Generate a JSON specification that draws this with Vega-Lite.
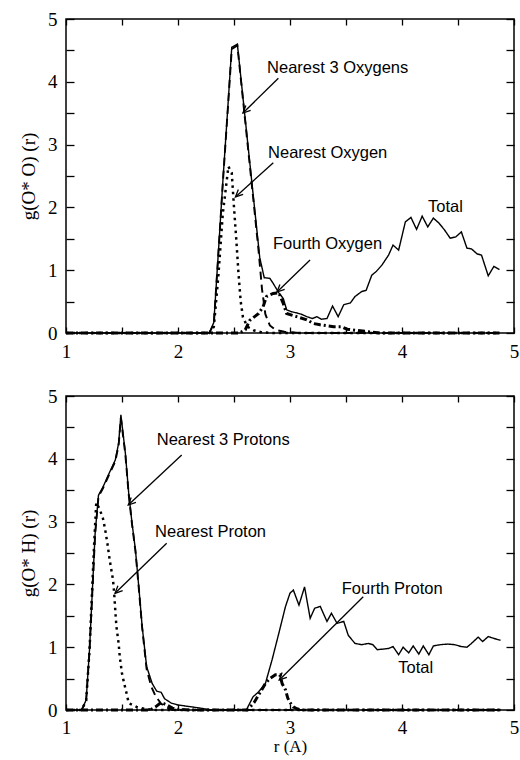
{
  "$schema": "https://vega.github.io/schema/vega-lite/v6.json",
  "background": "white",
  "padding": {"left": 18, "top": 9, "right": 6, "bottom": 5},
  "spacing": 63,
  "bounds": "flush",
  "config": {
    "view": {"stroke": "black", "strokeWidth": 1.5},
    "axis": {"grid": false, "domain": false, "labelFont": "Liberation Serif", "labelFontSize": 19, "labelColor": "black", "tickColor": "black", "tickWidth": 1.3, "titleFont": "Liberation Serif", "titleFontSize": 19, "titleFontWeight": "normal", "titleColor": "black", "labelOverlap": false, "labelFlush": false}
  },
  "datasets": {
    "curves": [
      {"panel": "top", "series": "Total", "r": 1.0, "g": 0},
      {"panel": "top", "series": "Total", "r": 2.28, "g": 0},
      {"panel": "top", "series": "Total", "r": 2.32, "g": 0.17},
      {"panel": "top", "series": "Total", "r": 2.36, "g": 1.27},
      {"panel": "top", "series": "Total", "r": 2.40, "g": 2.4},
      {"panel": "top", "series": "Total", "r": 2.44, "g": 3.46},
      {"panel": "top", "series": "Total", "r": 2.48, "g": 4.55},
      {"panel": "top", "series": "Total", "r": 2.53, "g": 4.6},
      {"panel": "top", "series": "Total", "r": 2.58, "g": 3.75},
      {"panel": "top", "series": "Total", "r": 2.63, "g": 2.9},
      {"panel": "top", "series": "Total", "r": 2.68, "g": 2.05},
      {"panel": "top", "series": "Total", "r": 2.73, "g": 1.2},
      {"panel": "top", "series": "Total", "r": 2.77, "g": 0.88},
      {"panel": "top", "series": "Total", "r": 2.82, "g": 0.87},
      {"panel": "top", "series": "Total", "r": 2.85, "g": 0.79},
      {"panel": "top", "series": "Total", "r": 2.90, "g": 0.64},
      {"panel": "top", "series": "Total", "r": 2.94, "g": 0.55},
      {"panel": "top", "series": "Total", "r": 2.97, "g": 0.37},
      {"panel": "top", "series": "Total", "r": 3.01, "g": 0.34},
      {"panel": "top", "series": "Total", "r": 3.06, "g": 0.32},
      {"panel": "top", "series": "Total", "r": 3.10, "g": 0.30},
      {"panel": "top", "series": "Total", "r": 3.15, "g": 0.26},
      {"panel": "top", "series": "Total", "r": 3.20, "g": 0.23},
      {"panel": "top", "series": "Total", "r": 3.24, "g": 0.26},
      {"panel": "top", "series": "Total", "r": 3.28, "g": 0.22},
      {"panel": "top", "series": "Total", "r": 3.33, "g": 0.23},
      {"panel": "top", "series": "Total", "r": 3.38, "g": 0.43},
      {"panel": "top", "series": "Total", "r": 3.43, "g": 0.26},
      {"panel": "top", "series": "Total", "r": 3.48, "g": 0.45},
      {"panel": "top", "series": "Total", "r": 3.54, "g": 0.48},
      {"panel": "top", "series": "Total", "r": 3.58, "g": 0.58},
      {"panel": "top", "series": "Total", "r": 3.64, "g": 0.66},
      {"panel": "top", "series": "Total", "r": 3.68, "g": 0.68},
      {"panel": "top", "series": "Total", "r": 3.73, "g": 0.92},
      {"panel": "top", "series": "Total", "r": 3.77, "g": 0.98},
      {"panel": "top", "series": "Total", "r": 3.82, "g": 1.08},
      {"panel": "top", "series": "Total", "r": 3.88, "g": 1.24},
      {"panel": "top", "series": "Total", "r": 3.92, "g": 1.40},
      {"panel": "top", "series": "Total", "r": 3.97, "g": 1.32},
      {"panel": "top", "series": "Total", "r": 4.03, "g": 1.77},
      {"panel": "top", "series": "Total", "r": 4.08, "g": 1.84},
      {"panel": "top", "series": "Total", "r": 4.13, "g": 1.65},
      {"panel": "top", "series": "Total", "r": 4.18, "g": 1.86},
      {"panel": "top", "series": "Total", "r": 4.23, "g": 1.69},
      {"panel": "top", "series": "Total", "r": 4.28, "g": 1.83},
      {"panel": "top", "series": "Total", "r": 4.33, "g": 1.75},
      {"panel": "top", "series": "Total", "r": 4.38, "g": 1.64},
      {"panel": "top", "series": "Total", "r": 4.43, "g": 1.51},
      {"panel": "top", "series": "Total", "r": 4.48, "g": 1.53},
      {"panel": "top", "series": "Total", "r": 4.53, "g": 1.61},
      {"panel": "top", "series": "Total", "r": 4.58, "g": 1.35},
      {"panel": "top", "series": "Total", "r": 4.62, "g": 1.34},
      {"panel": "top", "series": "Total", "r": 4.67, "g": 1.26},
      {"panel": "top", "series": "Total", "r": 4.71, "g": 1.24},
      {"panel": "top", "series": "Total", "r": 4.77, "g": 0.91},
      {"panel": "top", "series": "Total", "r": 4.82, "g": 1.06},
      {"panel": "top", "series": "Total", "r": 4.87, "g": 1.01},

      {"panel": "top", "series": "Nearest 3", "r": 1.0, "g": 0},
      {"panel": "top", "series": "Nearest 3", "r": 2.28, "g": 0},
      {"panel": "top", "series": "Nearest 3", "r": 2.32, "g": 0.15},
      {"panel": "top", "series": "Nearest 3", "r": 2.36, "g": 1.25},
      {"panel": "top", "series": "Nearest 3", "r": 2.40, "g": 2.38},
      {"panel": "top", "series": "Nearest 3", "r": 2.44, "g": 3.44},
      {"panel": "top", "series": "Nearest 3", "r": 2.48, "g": 4.52},
      {"panel": "top", "series": "Nearest 3", "r": 2.53, "g": 4.58},
      {"panel": "top", "series": "Nearest 3", "r": 2.58, "g": 3.72},
      {"panel": "top", "series": "Nearest 3", "r": 2.63, "g": 2.86},
      {"panel": "top", "series": "Nearest 3", "r": 2.68, "g": 2.0},
      {"panel": "top", "series": "Nearest 3", "r": 2.72, "g": 1.3},
      {"panel": "top", "series": "Nearest 3", "r": 2.75, "g": 0.7},
      {"panel": "top", "series": "Nearest 3", "r": 2.78, "g": 0.3},
      {"panel": "top", "series": "Nearest 3", "r": 2.82, "g": 0.12},
      {"panel": "top", "series": "Nearest 3", "r": 2.87, "g": 0.05},
      {"panel": "top", "series": "Nearest 3", "r": 2.95, "g": 0.02},
      {"panel": "top", "series": "Nearest 3", "r": 3.1, "g": 0},
      {"panel": "top", "series": "Nearest 3", "r": 4.87, "g": 0},

      {"panel": "top", "series": "Nearest", "r": 1.0, "g": 0},
      {"panel": "top", "series": "Nearest", "r": 2.28, "g": 0},
      {"panel": "top", "series": "Nearest", "r": 2.32, "g": 0.1},
      {"panel": "top", "series": "Nearest", "r": 2.36, "g": 0.9},
      {"panel": "top", "series": "Nearest", "r": 2.40, "g": 1.9},
      {"panel": "top", "series": "Nearest", "r": 2.45, "g": 2.65},
      {"panel": "top", "series": "Nearest", "r": 2.48, "g": 2.55},
      {"panel": "top", "series": "Nearest", "r": 2.50, "g": 2.0},
      {"panel": "top", "series": "Nearest", "r": 2.52, "g": 1.5},
      {"panel": "top", "series": "Nearest", "r": 2.54, "g": 0.95},
      {"panel": "top", "series": "Nearest", "r": 2.56, "g": 0.5},
      {"panel": "top", "series": "Nearest", "r": 2.58, "g": 0.25},
      {"panel": "top", "series": "Nearest", "r": 2.62, "g": 0.1},
      {"panel": "top", "series": "Nearest", "r": 2.68, "g": 0.04},
      {"panel": "top", "series": "Nearest", "r": 2.75, "g": 0.01},
      {"panel": "top", "series": "Nearest", "r": 2.85, "g": 0},
      {"panel": "top", "series": "Nearest", "r": 4.87, "g": 0},

      {"panel": "top", "series": "Fourth", "r": 1.0, "g": 0},
      {"panel": "top", "series": "Fourth", "r": 2.55, "g": 0},
      {"panel": "top", "series": "Fourth", "r": 2.60, "g": 0.05},
      {"panel": "top", "series": "Fourth", "r": 2.64, "g": 0.2},
      {"panel": "top", "series": "Fourth", "r": 2.72, "g": 0.31},
      {"panel": "top", "series": "Fourth", "r": 2.76, "g": 0.42},
      {"panel": "top", "series": "Fourth", "r": 2.79, "g": 0.58},
      {"panel": "top", "series": "Fourth", "r": 2.85, "g": 0.63},
      {"panel": "top", "series": "Fourth", "r": 2.90, "g": 0.64},
      {"panel": "top", "series": "Fourth", "r": 2.94, "g": 0.47},
      {"panel": "top", "series": "Fourth", "r": 2.97, "g": 0.31},
      {"panel": "top", "series": "Fourth", "r": 3.06, "g": 0.26},
      {"panel": "top", "series": "Fourth", "r": 3.15, "g": 0.21},
      {"panel": "top", "series": "Fourth", "r": 3.21, "g": 0.15},
      {"panel": "top", "series": "Fourth", "r": 3.27, "g": 0.13},
      {"panel": "top", "series": "Fourth", "r": 3.39, "g": 0.1},
      {"panel": "top", "series": "Fourth", "r": 3.46, "g": 0.1},
      {"panel": "top", "series": "Fourth", "r": 3.51, "g": 0.06},
      {"panel": "top", "series": "Fourth", "r": 3.60, "g": 0.04},
      {"panel": "top", "series": "Fourth", "r": 3.70, "g": 0.02},
      {"panel": "top", "series": "Fourth", "r": 3.80, "g": 0},
      {"panel": "top", "series": "Fourth", "r": 4.87, "g": 0},

      {"panel": "bottom", "series": "Total", "r": 1.0, "g": 0},
      {"panel": "bottom", "series": "Total", "r": 1.14, "g": 0},
      {"panel": "bottom", "series": "Total", "r": 1.18, "g": 0.16},
      {"panel": "bottom", "series": "Total", "r": 1.21, "g": 0.96},
      {"panel": "bottom", "series": "Total", "r": 1.26, "g": 2.81},
      {"panel": "bottom", "series": "Total", "r": 1.29, "g": 3.42},
      {"panel": "bottom", "series": "Total", "r": 1.33, "g": 3.55},
      {"panel": "bottom", "series": "Total", "r": 1.38, "g": 3.75},
      {"panel": "bottom", "series": "Total", "r": 1.44, "g": 3.98},
      {"panel": "bottom", "series": "Total", "r": 1.47, "g": 4.25},
      {"panel": "bottom", "series": "Total", "r": 1.49, "g": 4.70},
      {"panel": "bottom", "series": "Total", "r": 1.53, "g": 4.09},
      {"panel": "bottom", "series": "Total", "r": 1.56, "g": 3.45},
      {"panel": "bottom", "series": "Total", "r": 1.59, "g": 2.97},
      {"panel": "bottom", "series": "Total", "r": 1.62, "g": 2.55},
      {"panel": "bottom", "series": "Total", "r": 1.65, "g": 1.96},
      {"panel": "bottom", "series": "Total", "r": 1.68, "g": 1.33},
      {"panel": "bottom", "series": "Total", "r": 1.72, "g": 0.69},
      {"panel": "bottom", "series": "Total", "r": 1.77, "g": 0.42},
      {"panel": "bottom", "series": "Total", "r": 1.81, "g": 0.30},
      {"panel": "bottom", "series": "Total", "r": 1.85, "g": 0.28},
      {"panel": "bottom", "series": "Total", "r": 1.88, "g": 0.18},
      {"panel": "bottom", "series": "Total", "r": 1.94, "g": 0.11},
      {"panel": "bottom", "series": "Total", "r": 2.0, "g": 0.08},
      {"panel": "bottom", "series": "Total", "r": 2.08, "g": 0.06},
      {"panel": "bottom", "series": "Total", "r": 2.2, "g": 0.03},
      {"panel": "bottom", "series": "Total", "r": 2.3, "g": 0},
      {"panel": "bottom", "series": "Total", "r": 2.61, "g": 0},
      {"panel": "bottom", "series": "Total", "r": 2.67, "g": 0.21},
      {"panel": "bottom", "series": "Total", "r": 2.72, "g": 0.29},
      {"panel": "bottom", "series": "Total", "r": 2.78, "g": 0.42},
      {"panel": "bottom", "series": "Total", "r": 2.84, "g": 0.80},
      {"panel": "bottom", "series": "Total", "r": 2.90, "g": 1.22},
      {"panel": "bottom", "series": "Total", "r": 2.96, "g": 1.65},
      {"panel": "bottom", "series": "Total", "r": 3.00, "g": 1.86},
      {"panel": "bottom", "series": "Total", "r": 3.03, "g": 1.91},
      {"panel": "bottom", "series": "Total", "r": 3.08, "g": 1.67},
      {"panel": "bottom", "series": "Total", "r": 3.13, "g": 1.96},
      {"panel": "bottom", "series": "Total", "r": 3.18, "g": 1.46},
      {"panel": "bottom", "series": "Total", "r": 3.22, "g": 1.62},
      {"panel": "bottom", "series": "Total", "r": 3.27, "g": 1.65},
      {"panel": "bottom", "series": "Total", "r": 3.33, "g": 1.41},
      {"panel": "bottom", "series": "Total", "r": 3.37, "g": 1.54},
      {"panel": "bottom", "series": "Total", "r": 3.42, "g": 1.38},
      {"panel": "bottom", "series": "Total", "r": 3.48, "g": 1.41},
      {"panel": "bottom", "series": "Total", "r": 3.52, "g": 1.19},
      {"panel": "bottom", "series": "Total", "r": 3.58, "g": 1.06},
      {"panel": "bottom", "series": "Total", "r": 3.64, "g": 1.04},
      {"panel": "bottom", "series": "Total", "r": 3.70, "g": 1.06},
      {"panel": "bottom", "series": "Total", "r": 3.74, "g": 1.04},
      {"panel": "bottom", "series": "Total", "r": 3.78, "g": 0.96},
      {"panel": "bottom", "series": "Total", "r": 3.83, "g": 0.97},
      {"panel": "bottom", "series": "Total", "r": 3.88, "g": 0.98},
      {"panel": "bottom", "series": "Total", "r": 3.92, "g": 1.01},
      {"panel": "bottom", "series": "Total", "r": 3.97, "g": 0.88},
      {"panel": "bottom", "series": "Total", "r": 4.01, "g": 1.0},
      {"panel": "bottom", "series": "Total", "r": 4.06, "g": 0.91},
      {"panel": "bottom", "series": "Total", "r": 4.10, "g": 1.02},
      {"panel": "bottom", "series": "Total", "r": 4.15, "g": 0.89},
      {"panel": "bottom", "series": "Total", "r": 4.19, "g": 1.02},
      {"panel": "bottom", "series": "Total", "r": 4.24, "g": 0.88},
      {"panel": "bottom", "series": "Total", "r": 4.28, "g": 1.02},
      {"panel": "bottom", "series": "Total", "r": 4.34, "g": 1.04},
      {"panel": "bottom", "series": "Total", "r": 4.41, "g": 1.05},
      {"panel": "bottom", "series": "Total", "r": 4.47, "g": 1.04},
      {"panel": "bottom", "series": "Total", "r": 4.53, "g": 1.01},
      {"panel": "bottom", "series": "Total", "r": 4.58, "g": 1.0},
      {"panel": "bottom", "series": "Total", "r": 4.62, "g": 1.06},
      {"panel": "bottom", "series": "Total", "r": 4.68, "g": 1.16},
      {"panel": "bottom", "series": "Total", "r": 4.72, "g": 1.09},
      {"panel": "bottom", "series": "Total", "r": 4.77, "g": 1.17},
      {"panel": "bottom", "series": "Total", "r": 4.82, "g": 1.14},
      {"panel": "bottom", "series": "Total", "r": 4.88, "g": 1.11},

      {"panel": "bottom", "series": "Nearest 3", "r": 1.0, "g": 0},
      {"panel": "bottom", "series": "Nearest 3", "r": 1.14, "g": 0},
      {"panel": "bottom", "series": "Nearest 3", "r": 1.18, "g": 0.15},
      {"panel": "bottom", "series": "Nearest 3", "r": 1.21, "g": 0.95},
      {"panel": "bottom", "series": "Nearest 3", "r": 1.26, "g": 2.8},
      {"panel": "bottom", "series": "Nearest 3", "r": 1.29, "g": 3.4},
      {"panel": "bottom", "series": "Nearest 3", "r": 1.33, "g": 3.53},
      {"panel": "bottom", "series": "Nearest 3", "r": 1.38, "g": 3.73},
      {"panel": "bottom", "series": "Nearest 3", "r": 1.44, "g": 3.96},
      {"panel": "bottom", "series": "Nearest 3", "r": 1.47, "g": 4.22},
      {"panel": "bottom", "series": "Nearest 3", "r": 1.49, "g": 4.65},
      {"panel": "bottom", "series": "Nearest 3", "r": 1.53, "g": 4.07},
      {"panel": "bottom", "series": "Nearest 3", "r": 1.56, "g": 3.43},
      {"panel": "bottom", "series": "Nearest 3", "r": 1.59, "g": 2.95},
      {"panel": "bottom", "series": "Nearest 3", "r": 1.62, "g": 2.53},
      {"panel": "bottom", "series": "Nearest 3", "r": 1.65, "g": 1.94},
      {"panel": "bottom", "series": "Nearest 3", "r": 1.68, "g": 1.31},
      {"panel": "bottom", "series": "Nearest 3", "r": 1.72, "g": 0.65},
      {"panel": "bottom", "series": "Nearest 3", "r": 1.76, "g": 0.38},
      {"panel": "bottom", "series": "Nearest 3", "r": 1.80, "g": 0.22},
      {"panel": "bottom", "series": "Nearest 3", "r": 1.85, "g": 0.1},
      {"panel": "bottom", "series": "Nearest 3", "r": 1.90, "g": 0.04},
      {"panel": "bottom", "series": "Nearest 3", "r": 1.95, "g": 0},
      {"panel": "bottom", "series": "Nearest 3", "r": 4.88, "g": 0},

      {"panel": "bottom", "series": "Nearest", "r": 1.0, "g": 0},
      {"panel": "bottom", "series": "Nearest", "r": 1.14, "g": 0},
      {"panel": "bottom", "series": "Nearest", "r": 1.18, "g": 0.15},
      {"panel": "bottom", "series": "Nearest", "r": 1.21, "g": 0.95},
      {"panel": "bottom", "series": "Nearest", "r": 1.25, "g": 2.6},
      {"panel": "bottom", "series": "Nearest", "r": 1.27, "g": 3.3},
      {"panel": "bottom", "series": "Nearest", "r": 1.30, "g": 3.2},
      {"panel": "bottom", "series": "Nearest", "r": 1.33, "g": 3.05},
      {"panel": "bottom", "series": "Nearest", "r": 1.35, "g": 2.87},
      {"panel": "bottom", "series": "Nearest", "r": 1.37, "g": 2.65},
      {"panel": "bottom", "series": "Nearest", "r": 1.39, "g": 2.39},
      {"panel": "bottom", "series": "Nearest", "r": 1.42, "g": 2.07},
      {"panel": "bottom", "series": "Nearest", "r": 1.43, "g": 1.86},
      {"panel": "bottom", "series": "Nearest", "r": 1.44, "g": 1.59},
      {"panel": "bottom", "series": "Nearest", "r": 1.45, "g": 1.33},
      {"panel": "bottom", "series": "Nearest", "r": 1.47, "g": 1.06},
      {"panel": "bottom", "series": "Nearest", "r": 1.48, "g": 0.85},
      {"panel": "bottom", "series": "Nearest", "r": 1.50, "g": 0.58},
      {"panel": "bottom", "series": "Nearest", "r": 1.52, "g": 0.42},
      {"panel": "bottom", "series": "Nearest", "r": 1.54, "g": 0.27},
      {"panel": "bottom", "series": "Nearest", "r": 1.56, "g": 0.11},
      {"panel": "bottom", "series": "Nearest", "r": 1.63, "g": 0.05},
      {"panel": "bottom", "series": "Nearest", "r": 1.70, "g": 0.02},
      {"panel": "bottom", "series": "Nearest", "r": 1.80, "g": 0},
      {"panel": "bottom", "series": "Nearest", "r": 4.88, "g": 0},

      {"panel": "bottom", "series": "Fourth", "r": 1.0, "g": 0},
      {"panel": "bottom", "series": "Fourth", "r": 1.75, "g": 0},
      {"panel": "bottom", "series": "Fourth", "r": 1.80, "g": 0.05},
      {"panel": "bottom", "series": "Fourth", "r": 1.85, "g": 0.12},
      {"panel": "bottom", "series": "Fourth", "r": 1.90, "g": 0.08},
      {"panel": "bottom", "series": "Fourth", "r": 1.95, "g": 0.03},
      {"panel": "bottom", "series": "Fourth", "r": 2.0, "g": 0.01},
      {"panel": "bottom", "series": "Fourth", "r": 2.1, "g": 0},
      {"panel": "bottom", "series": "Fourth", "r": 2.62, "g": 0},
      {"panel": "bottom", "series": "Fourth", "r": 2.68, "g": 0.12},
      {"panel": "bottom", "series": "Fourth", "r": 2.73, "g": 0.27},
      {"panel": "bottom", "series": "Fourth", "r": 2.78, "g": 0.42},
      {"panel": "bottom", "series": "Fourth", "r": 2.82, "g": 0.50},
      {"panel": "bottom", "series": "Fourth", "r": 2.87, "g": 0.56},
      {"panel": "bottom", "series": "Fourth", "r": 2.91, "g": 0.56},
      {"panel": "bottom", "series": "Fourth", "r": 2.93, "g": 0.42},
      {"panel": "bottom", "series": "Fourth", "r": 2.96, "g": 0.32},
      {"panel": "bottom", "series": "Fourth", "r": 2.98, "g": 0.19},
      {"panel": "bottom", "series": "Fourth", "r": 3.00, "g": 0.12},
      {"panel": "bottom", "series": "Fourth", "r": 3.03, "g": 0.05},
      {"panel": "bottom", "series": "Fourth", "r": 3.06, "g": 0.02},
      {"panel": "bottom", "series": "Fourth", "r": 3.10, "g": 0},
      {"panel": "bottom", "series": "Fourth", "r": 4.88, "g": 0}
    ],
    "texts": [
      {"panel": "top", "label": "Nearest 3 Oxygens", "r": 2.795, "g": 4.22},
      {"panel": "top", "label": "Nearest Oxygen", "r": 2.804, "g": 2.871},
      {"panel": "top", "label": "Fourth Oxygen", "r": 2.848, "g": 1.417},
      {"panel": "top", "label": "Total", "r": 4.232, "g": 2.011},
      {"panel": "bottom", "label": "Nearest 3 Protons", "r": 1.81, "g": 4.299},
      {"panel": "bottom", "label": "Nearest Proton", "r": 1.795, "g": 2.839},
      {"panel": "bottom", "label": "Fourth Proton", "r": 3.462, "g": 1.922},
      {"panel": "bottom", "label": "Total", "r": 3.967, "g": 0.664}
    ],
    "arrows": [
      {"panel": "top", "r": 2.896, "g": 4.056, "r2": 2.58, "g2": 3.503},
      {"panel": "top", "r": 2.851, "g": 2.712, "r2": 2.513, "g2": 2.166},
      {"panel": "top", "r": 3.179, "g": 1.162, "r2": 2.884, "g2": 0.653},
      {"panel": "bottom", "r": 2.033, "g": 4.06, "r2": 1.556, "g2": 3.264},
      {"panel": "bottom", "r": 1.899, "g": 2.654, "r2": 1.4375, "g2": 1.858},
      {"panel": "bottom", "r": 3.654, "g": 1.804, "r2": 2.904, "g2": 0.478}
    ]
  },
  "vconcat": [
    {
      "width": 448, "height": 314,
      "resolve": {"axis": {"x": "independent", "y": "independent"}},
      "layer": [
        {
          "data": {"name": "curves"},
          "transform": [{"filter": "datum.panel === 'top'"}],
          "mark": {"type": "line", "color": "black"},
          "encoding": {
            "x": {"field": "r", "type": "quantitative", "scale": {"domain": [1, 5], "nice": false, "zero": false},
                  "axis": {"orient": "bottom", "values": [1, 1.5, 2, 2.5, 3, 3.5, 4, 4.5, 5], "labelExpr": "datum.value % 1 === 0 ? format(datum.value, 'd') : ''", "tickSize": -6, "labelPadding": 15, "title": null}},
            "y": {"field": "g", "type": "quantitative", "scale": {"domain": [0, 5], "nice": false},
                  "axis": {"orient": "left", "values": [0, 0.5, 1, 1.5, 2, 2.5, 3, 3.5, 4, 4.5, 5], "labelExpr": "datum.value % 1 === 0 ? format(datum.value, 'd') : ''", "tickSize": -8, "labelPadding": 17, "title": "g(O* O) (r)", "titlePadding": 9}},
            "strokeDash": {"field": "series", "type": "nominal", "legend": null,
                  "scale": {"domain": ["Total", "Nearest 3", "Nearest", "Fourth"], "range": [[1, 0], [8, 5], [2.5, 4], [7, 3, 2, 3]]}},
            "strokeWidth": {"field": "series", "type": "nominal", "legend": null,
                  "scale": {"domain": ["Total", "Nearest 3", "Nearest", "Fourth"], "range": [1.4, 3, 3, 1.5]}}
          }
        },
        {
          "data": {"name": "arrows"},
          "transform": [{"filter": "datum.panel === 'top'"}],
          "mark": {"type": "rule", "color": "black", "strokeWidth": 1.3},
          "encoding": {
            "x": {"field": "r", "type": "quantitative", "axis": null},
            "y": {"field": "g", "type": "quantitative", "axis": null},
            "x2": {"field": "r2"},
            "y2": {"field": "g2"}
          }
        },
        {
          "data": {"name": "arrows"},
          "transform": [{"filter": "datum.panel === 'top'"}],
          "mark": {"type": "point", "shape": "M0.95,-0.33L0,0L0.36,-0.93", "filled": false, "color": "black", "strokeWidth": 1.3, "size": 260, "opacity": 1},
          "encoding": {
            "x": {"field": "r2", "type": "quantitative", "axis": null},
            "y": {"field": "g2", "type": "quantitative", "axis": null}
          }
        },
        {
          "data": {"name": "texts"},
          "transform": [{"filter": "datum.panel === 'top'"}],
          "mark": {"type": "text", "align": "left", "baseline": "middle", "font": "Liberation Sans", "fontSize": 16.5, "color": "black"},
          "encoding": {
            "x": {"field": "r", "type": "quantitative",
                  "axis": {"orient": "top", "values": [1, 1.5, 2, 2.5, 3, 3.5, 4, 4.5, 5], "labels": false, "tickSize": -6, "title": null}},
            "y": {"field": "g", "type": "quantitative",
                  "axis": {"orient": "right", "values": [0, 0.5, 1, 1.5, 2, 2.5, 3, 3.5, 4, 4.5, 5], "labels": false, "tickSize": -8, "title": null}},
            "text": {"field": "label"}
          }
        }
      ]
    },
    {
      "width": 448, "height": 314,
      "resolve": {"axis": {"x": "independent", "y": "independent"}},
      "layer": [
        {
          "data": {"name": "curves"},
          "transform": [{"filter": "datum.panel === 'bottom'"}],
          "mark": {"type": "line", "color": "black"},
          "encoding": {
            "x": {"field": "r", "type": "quantitative", "scale": {"domain": [1, 5], "nice": false, "zero": false},
                  "axis": {"orient": "bottom", "values": [1, 1.5, 2, 2.5, 3, 3.5, 4, 4.5, 5], "labelExpr": "datum.value % 1 === 0 ? format(datum.value, 'd') : ''", "tickSize": -6, "labelPadding": 14, "title": "r (A)", "titlePadding": 1, "titleFontSize": 17}},
            "y": {"field": "g", "type": "quantitative", "scale": {"domain": [0, 5], "nice": false},
                  "axis": {"orient": "left", "values": [0, 0.5, 1, 1.5, 2, 2.5, 3, 3.5, 4, 4.5, 5], "labelExpr": "datum.value % 1 === 0 ? format(datum.value, 'd') : ''", "tickSize": -8, "labelPadding": 17, "title": "g(O* H) (r)", "titlePadding": 9}},
            "strokeDash": {"field": "series", "type": "nominal", "legend": null,
                  "scale": {"domain": ["Total", "Nearest 3", "Nearest", "Fourth"], "range": [[1, 0], [8, 5], [2.5, 4], [7, 3, 2, 3]]}},
            "strokeWidth": {"field": "series", "type": "nominal", "legend": null,
                  "scale": {"domain": ["Total", "Nearest 3", "Nearest", "Fourth"], "range": [1.4, 3, 3, 1.5]}}
          }
        },
        {
          "data": {"name": "arrows"},
          "transform": [{"filter": "datum.panel === 'bottom'"}],
          "mark": {"type": "rule", "color": "black", "strokeWidth": 1.3},
          "encoding": {
            "x": {"field": "r", "type": "quantitative", "axis": null},
            "y": {"field": "g", "type": "quantitative", "axis": null},
            "x2": {"field": "r2"},
            "y2": {"field": "g2"}
          }
        },
        {
          "data": {"name": "arrows"},
          "transform": [{"filter": "datum.panel === 'bottom'"}],
          "mark": {"type": "point", "shape": "M0.95,-0.33L0,0L0.36,-0.93", "filled": false, "color": "black", "strokeWidth": 1.3, "size": 260, "opacity": 1},
          "encoding": {
            "x": {"field": "r2", "type": "quantitative", "axis": null},
            "y": {"field": "g2", "type": "quantitative", "axis": null}
          }
        },
        {
          "data": {"name": "texts"},
          "transform": [{"filter": "datum.panel === 'bottom'"}],
          "mark": {"type": "text", "align": "left", "baseline": "middle", "font": "Liberation Sans", "fontSize": 16.5, "color": "black"},
          "encoding": {
            "x": {"field": "r", "type": "quantitative",
                  "axis": {"orient": "top", "values": [1, 1.5, 2, 2.5, 3, 3.5, 4, 4.5, 5], "labels": false, "tickSize": -6, "title": null}},
            "y": {"field": "g", "type": "quantitative",
                  "axis": {"orient": "right", "values": [0, 0.5, 1, 1.5, 2, 2.5, 3, 3.5, 4, 4.5, 5], "labels": false, "tickSize": -8, "title": null}},
            "text": {"field": "label"}
          }
        }
      ]
    }
  ]
}
